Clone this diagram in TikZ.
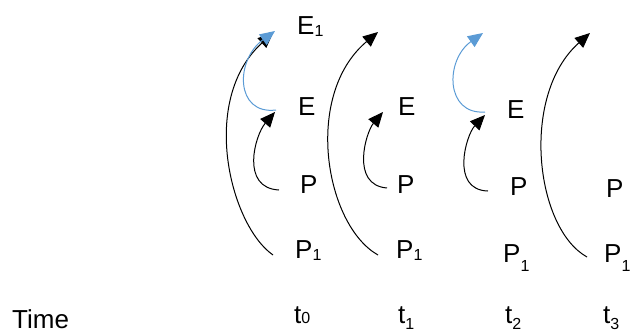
\documentclass[tikz,border=0pt]{standalone}
\usepackage{fontspec}
\setmainfont{Liberation Sans}
\usetikzlibrary{arrows.meta,calc}
\definecolor{arcblue}{HTML}{5B9BD5}
\newcommand{\smidx}[2]{\raisebox{#1}{\fontsize{16}{16}\selectfont #2}}
\begin{document}
\begin{tikzpicture}[x=1pt,y=-1pt,
  lbl/.style={anchor=base west,inner sep=0pt,font=\fontsize{26}{30}\selectfont},
  arc/.style={line width=1pt,-{Triangle[length=15pt,width=13pt]}},
  bluearc/.style={arc,draw=arcblue}]
\useasboundingbox (0,0) rectangle (630,335);
% labels
\node[lbl] (e1a) at (297,34) {E\smidx{-2pt}{1}};
\node[lbl] (ea) at (298,115) {E};
\node[lbl] (pa) at (300,193) {P};
\node[lbl] (p1a) at (295,258) {P\smidx{-2pt}{1}};
\node[lbl] (eb) at (398,115) {E};
\node[lbl] (pb) at (397,193) {P};
\node[lbl] (p1b) at (396,258) {P\smidx{-2pt}{1}};
\node[lbl] (ec) at (507,118) {E};
\node[lbl] (pc) at (510,195) {P};
\node[lbl] (p1c) at (503,262) {P\smidx{-9pt}{1}};
\node[lbl] (pd) at (606,197) {P};
\node[lbl] (p1d) at (604,262) {P\smidx{-9pt}{1}};
\node[lbl] (time) at (12,328) {Time};
\node[lbl] (t0) at (294,323) {t\smidx{0pt}{0}};
\node[lbl] (t1) at (398,323) {t\smidx{-6pt}{1}};
\node[lbl] (t2) at (505,323) {t\smidx{-6pt}{2}};
\node[lbl] (t3) at (603,323) {t\smidx{-6pt}{3}};
% free arrow ends
\coordinate (topb) at (378,32);
\coordinate (topc) at (483,33);
\coordinate (topd) at (590,33);
% column t0
\draw[arc] ($(p1a.base west)+(-22,-3)$) .. controls +(-43,-30) and +(-74,67) .. ($(e1a.base west)+(-24,-1)$);
\draw[arc] ($(pa.base west)+(-21,-3)$) .. controls +(-39,-2) and +(-20,23) .. ($(ea.base west)+(-23,-3)$);
\draw[bluearc] ($(ea.base west)+(-22,-5)$) .. controls +(-41,5) and +(-40,29) .. ($(e1a.base west)+(-22,-3)$);
% column t1
\draw[arc] ($(p1b.base west)+(-18,-3)$) .. controls +(-53,-30) and +(-75,63) .. (topb);
\draw[arc] ($(pb.base west)+(-10,-5)$) .. controls +(-37,-3) and +(-17,20) .. ($(eb.base west)+(-15,-3)$);
% column t2
\draw[bluearc] ($(ec.base west)+(-22,-6)$) .. controls +(-40,3) and +(-38,27) .. (topc);
\draw[arc] ($(pc.base west)+(-22,-4)$) .. controls +(-38,-1) and +(-19,20) .. ($(ec.base west)+(-22,-3)$);
% column t3
\draw[arc] ($(p1d.base west)+(-17,-5)$) .. controls +(-52,-29) and +(-70,62) .. (topd);
\end{tikzpicture}
\end{document}
